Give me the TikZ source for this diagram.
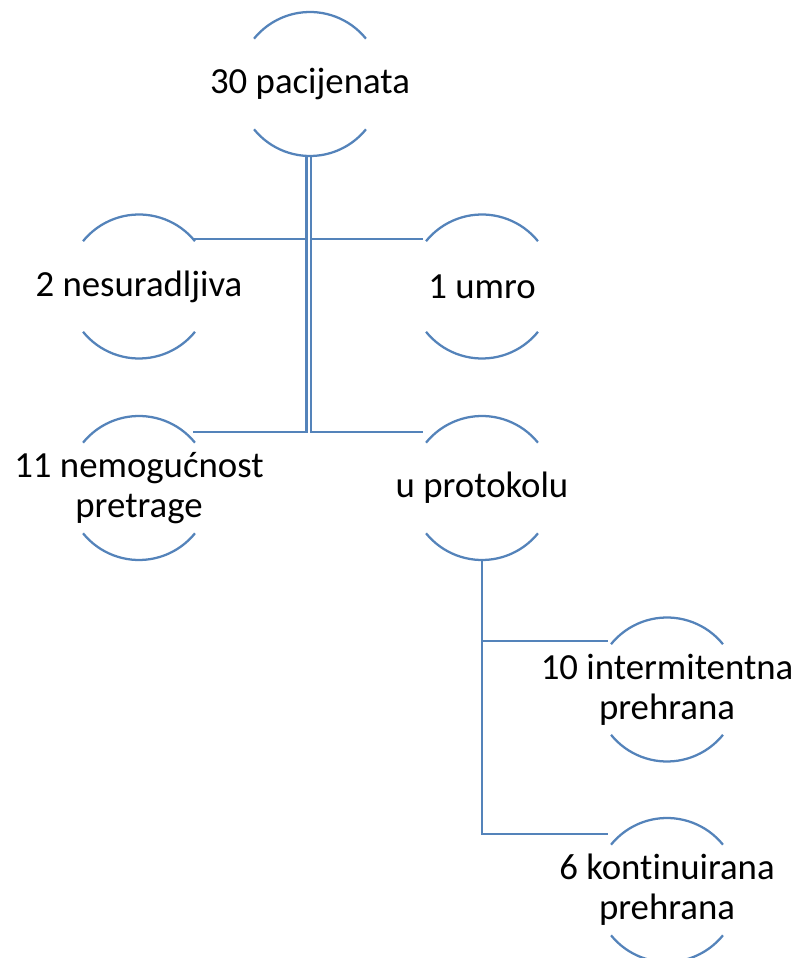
\documentclass[tikz,border=0pt]{standalone}
\usepackage{fontspec}
\setmainfont{Carlito}[Ligatures=NoCommon]
\usepackage{tikz}
\usetikzlibrary{calc}
\definecolor{lineblue}{RGB}{84,131,186}

\begin{document}
\begin{tikzpicture}[x=0.75pt,y=0.75pt, line cap=butt, line join=miter]
				\useasboundingbox (0,0) rectangle (798,958);
				
				% ===== stilovi =====
				\tikzset{unit/.style={align=center, font=\fontsize{27.6}{30}\selectfont, text=black, inner sep=0pt},
					rim/.style={draw=lineblue, line width=1.7pt},
					link/.style={draw=lineblue, line width=1.8pt}}
				
				% ===== čvorovi (središta krugova) =====
				\node[unit] (pac) at (310,874) {30 pacijenata};
				\node[unit] (nes) at (139,671.5) {2 nesuradljiva};
				\node[unit] (umro) at (482,671.5) {1 umro};
				\node[unit] (nem) at (139,470) {11 nemogućnost\\pretrage};
				\node[unit] (prot) at (482,470) {u protokolu};
				\node[unit] (inter) at (667,268.5) {10 intermitentna\\prehrana};
				\node[unit] (kont) at (667,68) {6 kontinuirana\\prehrana};
				
				% ===== lukovi gore i dolje =====
				\foreach \n in {pac,nes,umro,nem,prot,inter,kont}{
					\draw[rim] ($(\n.center)+(39:72)$) arc[start angle=39, end angle=141, radius=72];
					\draw[rim] ($(\n.center)+(219:72)$) arc[start angle=219, end angle=321, radius=72];
				}
				
				% ===== točke spajanja =====
				\coordinate (pacL) at ($(pac.center)+(-3.5,-72)$);
				\coordinate (pacR) at ($(pac.center)+(1,-72)$);
				\coordinate (nesE) at ($(nes.center)+(54,47.2)$);
				\coordinate (umroW) at ($(umro.center)+(-59,47.2)$);
				\coordinate (nemE) at ($(nem.center)+(54,56)$);
				\coordinate (protW) at ($(prot.center)+(-59,56)$);
				\coordinate (protS) at ($(prot.center)+(0,-72)$);
				\coordinate (interW) at ($(inter.center)+(-59,48.5)$);
				\coordinate (kontW) at ($(kont.center)+(-59,56)$);
				
				% ===== veze =====
				\draw[link] (pacL) |- (nemE);
				\draw[link] (nesE) -- (nesE -| pacL);
				\draw[link] (pacR) |- (protW);
				\draw[link] (umroW) -- (umroW -| pacR);
				\draw[link] (protS) |- (kontW);
				\draw[link] (protS |- interW) -- (interW);
			\end{tikzpicture}
\end{document}
